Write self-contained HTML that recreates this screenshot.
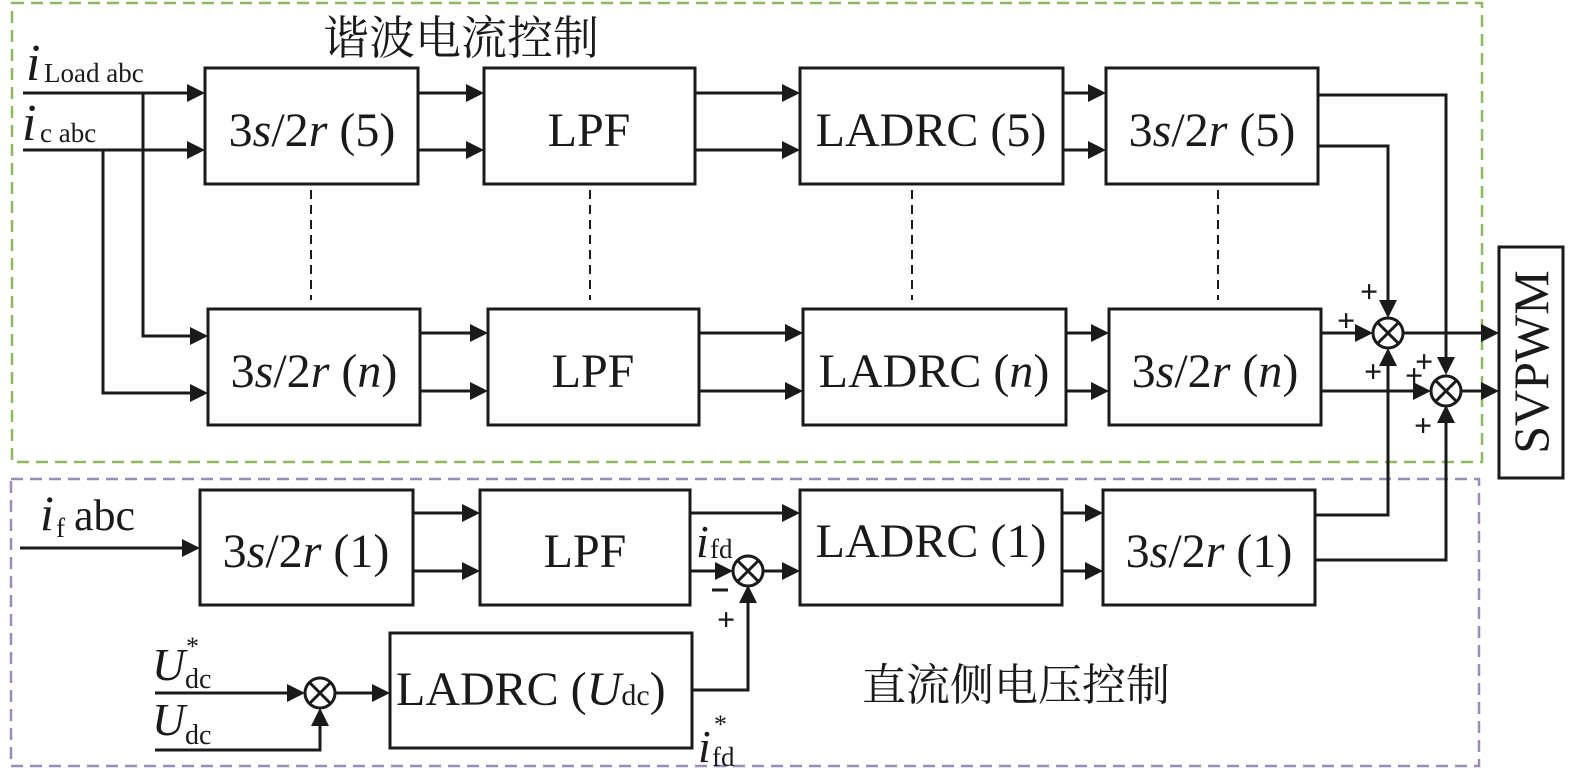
<!DOCTYPE html>
<html><head><meta charset="utf-8"><style>
html,body{margin:0;padding:0;background:#fff}
svg{display:block}
text{font-family:"Liberation Serif","Noto Serif CJK SC",serif;fill:#1a1a1a}
</style></head><body>
<svg width="1575" height="777" viewBox="0 0 1575 777" xmlns="http://www.w3.org/2000/svg">
<g fill="none" stroke-width="2.5">
<rect x="12" y="3" width="1470" height="459" stroke="#8fb862" stroke-dasharray="12,7"/>
<rect x="11" y="479" width="1468" height="287" stroke="#9a8cb8" stroke-dasharray="12,7"/>
</g>
<g fill="none" stroke="#1a1a1a" stroke-width="3">
<rect x="205" y="68" width="213" height="116"/>
<rect x="484" y="68" width="211" height="116"/>
<rect x="800" y="68" width="263" height="116"/>
<rect x="1106" y="68" width="212" height="116"/>
<rect x="208" y="309" width="212" height="116"/>
<rect x="488" y="309" width="211" height="116"/>
<rect x="803" y="309" width="263" height="116"/>
<rect x="1109" y="309" width="212" height="116"/>
<rect x="200" y="490" width="213" height="115"/>
<rect x="480" y="490" width="210" height="115"/>
<rect x="800" y="490" width="262" height="115"/>
<rect x="1103" y="490" width="212" height="115"/>
<rect x="390" y="633" width="302" height="115"/>
<rect x="1499" y="247" width="64" height="231"/>
<path d="M23 93H190M23 150H190M143 93V336H193M103 150V393H193"/>
<path d="M418 93H470M418 150H470M695 93H786M695 150H786M1063 93H1092M1063 150H1092"/>
<path d="M420 333H474M420 391H474M699 333H789M699 391H789M1066 333H1095M1066 391H1095"/>
<path d="M20 548H186M413 513H466M413 571H466M690 513H786M690 571H720M763 571H786M1062 513H1089M1062 571H1089"/>
<path d="M1318 95H1446V360M1318 146H1388V303M1321 333H1358M1321 391H1416M1403 333H1485M1461 391H1485"/>
<path d="M1315 515H1388V363M1315 560H1446V420"/>
<path d="M155 693H290M335 693H376M155 750H320V723M692 690H748V600"/>
</g>
<g fill="none" stroke="#1a1a1a" stroke-width="2" stroke-dasharray="9,6">
<path d="M311 190V300M590 190V300M912 190V300M1218 190V300"/>
</g>
<g fill="#1a1a1a">
<path d="M205 93l-18-9v18zM205 150l-18-9v18zM208 336l-18-9v18zM208 393l-18-9v18z"/>
<path d="M484 93l-18-9v18zM484 150l-18-9v18zM800 93l-18-9v18zM800 150l-18-9v18zM1106 93l-18-9v18zM1106 150l-18-9v18z"/>
<path d="M488 333l-18-9v18zM488 391l-18-9v18zM803 333l-18-9v18zM803 391l-18-9v18zM1109 333l-18-9v18zM1109 391l-18-9v18z"/>
<path d="M200 548l-18-9v18zM480 513l-18-9v18zM480 571l-18-9v18zM800 513l-18-9v18zM800 571l-18-9v18zM733 571l-18-9v18zM1103 513l-18-9v18zM1103 571l-18-9v18z"/>
<path d="M1373 333l-18-9v18zM1431 391l-18-9v18zM1499 333l-18-9v18zM1499 391l-18-9v18z"/>
<path d="M1388 318l-9-18h18zM1446 375l-9-18h18zM1388 348l-9 18h18zM1446 405l-9 18h18z"/>
<path d="M748 585l-9 18h18zM305 693l-18-9v18zM390 693l-18-9v18zM320 708l-9 18h18z"/>
</g>
<g fill="#fff" stroke="#1a1a1a" stroke-width="3">
<circle cx="1388" cy="333" r="15"/><circle cx="1446" cy="391" r="15"/>
<circle cx="748" cy="571" r="15"/><circle cx="320" cy="693" r="15"/>
</g>
<g stroke="#1a1a1a" stroke-width="3">
<path d="M1377 322l22 22M1399 322l-22 22M1435 380l22 22M1457 380l-22 22M737 560l22 22M759 560l-22 22M309 682l22 22M331 682l-22 22"/>
</g>
<g font-family="Liberation Sans,sans-serif" font-size="32" font-weight="bold">
<text x="1360" y="302">+</text><text x="1337" y="331">+</text>
<text x="1364" y="382">+</text><text x="1405" y="386">+</text><text x="1415" y="372">+</text>
<text x="1414" y="436">+</text>
<text x="717" y="630">+</text>
</g>
<path d="M712 590h16" stroke="#1a1a1a" stroke-width="3"/>
<g font-size="48">
<text x="312" y="146" text-anchor="middle">3<tspan font-style="italic">s</tspan>/2<tspan font-style="italic">r</tspan> (5)</text>
<text x="589" y="146" text-anchor="middle">LPF</text>
<text x="931" y="146" text-anchor="middle">LADRC (5)</text>
<text x="1212" y="146" text-anchor="middle">3<tspan font-style="italic">s</tspan>/2<tspan font-style="italic">r</tspan> (5)</text>
<text x="314" y="387" text-anchor="middle">3<tspan font-style="italic">s</tspan>/2<tspan font-style="italic">r</tspan> (<tspan font-style="italic">n</tspan>)</text>
<text x="593" y="387" text-anchor="middle">LPF</text>
<text x="934" y="387" text-anchor="middle">LADRC (<tspan font-style="italic">n</tspan>)</text>
<text x="1215" y="387" text-anchor="middle">3<tspan font-style="italic">s</tspan>/2<tspan font-style="italic">r</tspan> (<tspan font-style="italic">n</tspan>)</text>
<text x="306" y="567" text-anchor="middle">3<tspan font-style="italic">s</tspan>/2<tspan font-style="italic">r</tspan> (1)</text>
<text x="585" y="567" text-anchor="middle">LPF</text>
<text x="931" y="557" text-anchor="middle">LADRC (1)</text>
<text x="1209" y="567" text-anchor="middle">3<tspan font-style="italic">s</tspan>/2<tspan font-style="italic">r</tspan> (1)</text>
<text x="396" y="705">LADRC (<tspan font-style="italic">U</tspan><tspan font-size="30">dc</tspan>)</text>
<text transform="translate(1548,362) rotate(-90)" text-anchor="middle" font-size="50">SVPWM</text>
</g>
<text x="323" y="54" font-size="46" font-family="Noto Serif CJK SC,Noto Sans CJK SC,serif">谐波电流控制</text>
<text x="862" y="700" font-size="44" font-family="Noto Serif CJK SC,Noto Sans CJK SC,serif">直流侧电压控制</text>
<text x="26" y="80" font-size="52" font-style="italic">i</text><text x="44" y="82" font-size="27">Load abc</text>
<text x="22" y="140" font-size="52" font-style="italic">i</text><text x="40" y="142" font-size="27">c abc</text>
<text x="40" y="530" font-size="50" font-style="italic">i</text><text x="56" y="537" font-size="27">f</text><text x="74" y="530" font-size="44">abc</text>
<text x="696" y="557" font-size="46" font-style="italic">i</text><text x="710" y="558" font-size="27">fd</text>
<text x="698" y="762" font-size="46" font-style="italic">i</text><text x="712" y="766" font-size="27">fd</text><text x="714" y="733" font-size="26">*</text>
<text x="152" y="680" font-size="46" font-style="italic">U</text><text x="185" y="688" font-size="28">dc</text><text x="186" y="655" font-size="26">*</text>
<text x="152" y="735" font-size="46" font-style="italic">U</text><text x="185" y="744" font-size="28">dc</text>
</svg>
</body></html>
